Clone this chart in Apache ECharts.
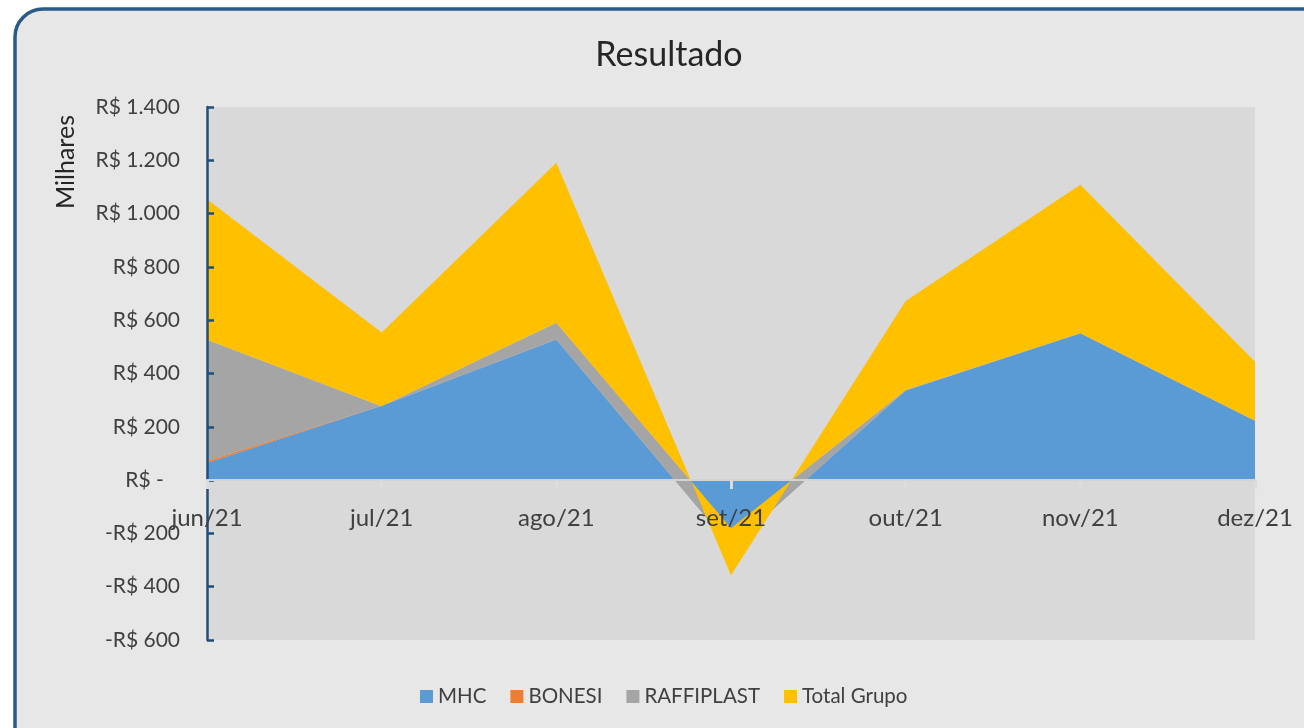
<!DOCTYPE html>
<html>
<head>
<meta charset="utf-8" />
<title>Resultado</title>
<script src="https://cdn.jsdelivr.net/npm/echarts@6/dist/echarts.min.js"></script>
<style>
	html, body { margin: 0; padding: 0; background: #ffffff; }
	#chart { width: 1304px; height: 728px; }
</style>
</head>
<body>
<div id="chart"></div>
<script type="text/javascript">
// data (milhares de R$)
var months = ['jun/21', 'jul/21', 'ago/21', 'set/21', 'out/21', 'nov/21', 'dez/21'];
var mhc = [64, 279, 528, -250, 336, 551, 223];
var bonesi = [8, 0, 0, 0, 0, 0, 0];
var raffiplast = [455, -2, 62, 69, 2, 0, 0];
var totalGrupo = [527, 277, 601, -176, 334, 557, 221];
var yTicks = { min: -600, max: 1400, step: 200 };

var font = 'Lato, "Noto Sans", sans-serif';

function money(v) {
	if (v === 0) return 'R$ -   ';
	var s = Math.abs(v).toString().replace(/\B(?=(\d{3})+(?!\d))/g, '.');
	return (v < 0 ? '-R$ ' : 'R$ ') + s;
}

function areaSeries(name, color, data) {
	return {
		name: name,
		type: 'line',
		stack: 'grupo',
		stackStrategy: 'all',
		symbol: 'none',
		lineStyle: { width: 0 },
		areaStyle: { color: color, opacity: 1 },
		itemStyle: { color: color },
		data: data
	};
}

var gridTop = 107, gridBottom = 88;
var plotH = 728 - gridTop - gridBottom;
// move the category axis up to the zero line (labels too)
var zeroOffset = -plotH * (0 - yTicks.min) / (yTicks.max - yTicks.min);

var myChart = echarts.init(document.getElementById('chart'));
var option = {
	backgroundColor: '#ffffff',
	animation: false,
	graphic: [
		{
			type: 'rect',
			z: -10,
			shape: { x: 15, y: 9, width: 1330, height: 760, r: 28 },
			style: { fill: '#e7e7e7', stroke: '#2a5a88', lineWidth: 3.5 }
		},
		{
			type: 'text',
			x: 66, y: 162,
			rotation: Math.PI / 2,
			style: {
				text: 'Milhares',
				font: '25px ' + font,
				fill: '#262626',
				align: 'center',
				verticalAlign: 'middle'
			}
		}
	],
	title: {
		text: 'Resultado',
		left: 664,
		top: 33,
		textAlign: 'center',
		textStyle: { fontFamily: font, fontSize: 34, fontWeight: 'normal', color: '#262626' }
	},
	legend: {
		data: ['MHC', 'BONESI', 'RAFFIPLAST', 'Total Grupo'],
		left: 415,
		top: 681,
		icon: 'rect',
		itemWidth: 13,
		itemHeight: 13,
		itemGap: 24,
		textStyle: { fontFamily: font, fontSize: 20.5, color: '#404040' }
	},
	grid: {
		left: 207,
		right: 49,
		top: gridTop,
		bottom: gridBottom,
		show: true,
		backgroundColor: '#d9d9d9',
		borderWidth: 0
	},
	xAxis: {
		type: 'category',
		data: months,
		boundaryGap: false,
		z: 10,
		offset: zeroOffset,
		axisLine: { onZero: false, lineStyle: { color: '#d4d4d4', width: 2 } },
		axisTick: { show: true, alignWithLabel: true, length: 9, lineStyle: { color: '#dcdcdc', width: 3 } },
		axisLabel: { margin: 26, fontFamily: font, fontSize: 24, color: '#404040', showMinLabel: true, showMaxLabel: true },
		splitLine: { show: false }
	},
	yAxis: {
		type: 'value',
		min: yTicks.min,
		max: yTicks.max,
		interval: yTicks.step,
		z: 9,
		axisLine: { show: true, lineStyle: { color: '#1f4e79', width: 2.5 } },
		axisTick: { show: true, inside: true, length: 7, lineStyle: { color: '#1f4e79', width: 2.5 } },
		axisLabel: { margin: 27, fontFamily: font, fontSize: 21, color: '#404040', formatter: money },
		splitLine: { show: false }
	},
	series: [
		areaSeries('MHC', '#5b9bd5', mhc),
		areaSeries('BONESI', '#ed7d31', bonesi),
		areaSeries('RAFFIPLAST', '#a5a5a5', raffiplast),
		areaSeries('Total Grupo', '#ffc000', totalGrupo)
	]
};
myChart.setOption(option);
</script>
</body>
</html>
